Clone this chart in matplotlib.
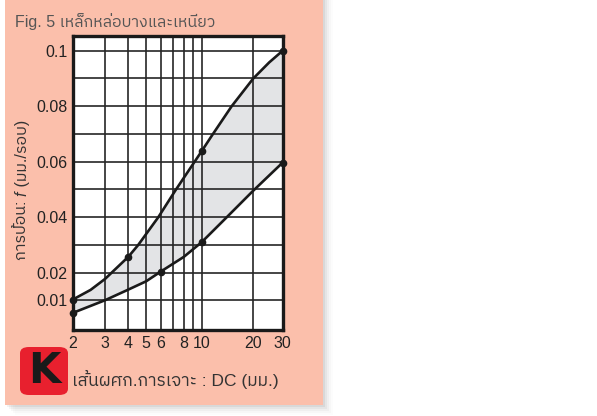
import matplotlib
matplotlib.use('Agg')
import matplotlib.pyplot as plt
from matplotlib import font_manager, ft2font
from matplotlib.patches import Rectangle, FancyBboxPatch
import numpy as np

# values (curve traced at grid crossings)
upper_dc = [2, 2.5, 3, 4, 4.53, 5.82, 7.26, 10, 11.45, 15.02, 20.13, 25, 30]
upper_f = [0.0103, 0.0138, 0.0178, 0.0257, 0.03, 0.04, 0.05, 0.0638, 0.0693, 0.08, 0.09, 0.0958, 0.1]
lower_dc = [2, 3, 4, 5, 6, 8, 10, 14, 20, 30]
lower_f = [0.0055, 0.0101, 0.0139, 0.0169, 0.0204, 0.0257, 0.031, 0.0399, 0.0494, 0.0597]

upper_dots_dc = [2, 4, 10, 30]
upper_dots_f = [0.0103, 0.0257, 0.0638, 0.1]
lower_dots_dc = [2, 6, 10, 30]
lower_dots_f = [0.0055, 0.0204, 0.031, 0.0597]

x_grid = [2, 3, 4, 5, 6, 7, 8, 9, 10, 20, 30]
x_ticks = [2, 3, 4, 5, 6, 8, 10, 20, 30]
y_grid = [0.01, 0.02, 0.03, 0.04, 0.05, 0.06, 0.07, 0.08, 0.09, 0.1]
y_ticks = [0.01, 0.02, 0.04, 0.06, 0.08, 0.1]
y_ticklabels = ['0.01', '0.02', '0.04', '0.06', '0.08', '0.1']

title = 'Fig. 5 เหล็กหล่อบางและเหนียว'
xlabel = 'เส้นผศก.การเจาะ : DC (มม.)'
ylabel_parts = ['การป้อน: ', 'f', ' (มม./รอบ)']


def thai_family():
    # pick an installed font that actually has Thai glyphs
    found = []
    for f in font_manager.fontManager.ttflist:
        try:
            if 0x0E01 in ft2font.FT2Font(f.fname).get_charmap():
                found.append(f.name)
        except Exception:
            pass
    for name in found:
        if 'Thai' in name:
            return name
    return found[0] if found else 'DejaVu Sans'


THAI = thai_family()
FAM = ['Liberation Sans', THAI, 'DejaVu Sans']
plt.rcParams['font.family'] = FAM

# the printed log axis is a bit squeezed above 10, so two log pieces
DEC_LO = 184.55   # per decade, 2..10
DEC_HI = 169.8    # per decade, 10..30
L2 = np.log10(2)


def fwd(x):
    lx = np.log10(np.clip(x, 1e-6, None))
    return np.where(lx <= 1, (lx - L2) * DEC_LO, (1 - L2) * DEC_LO + (lx - 1) * DEC_HI)


def inv(u):
    u10 = (1 - L2) * DEC_LO
    return np.where(u <= u10, 10 ** (u / DEC_LO + L2), 10 ** ((u - u10) / DEC_HI + 1))


W, H = 597, 416
fig = plt.figure(figsize=(W / 100, H / 100), dpi=100)
fig.patch.set_facecolor('white')


def px(x0, y0, x1, y1):
    # pixel box (top-left origin) -> figure fraction
    return (x0 / W, 1 - y1 / H, (x1 - x0) / W, (y1 - y0) / H)


# soft shadow round the panel
for i, a in enumerate([0.05, 0.04, 0.03, 0.02, 0.012]):
    d = 2 + i * 2
    l, b, w, h = px(5 + d, 0, 323 + d, 405 + d)
    fig.patches.append(Rectangle((l, b), w, h, transform=fig.transFigure, zorder=-3,
                                 facecolor='black', alpha=a, edgecolor='none'))
l, b, w, h = px(5, 0, 323, 405)
fig.patches.append(Rectangle((l, b), w, h, transform=fig.transFigure, zorder=-2,
                             facecolor='#fbbfab', edgecolor='none'))

ax = fig.add_axes(px(72.7, 36, 282.7, 330))
ax.set_facecolor('white')
ax.set_xscale('function', functions=(fwd, inv))
ax.set_xlim(2, 30)
ax.set_ylim(-0.00065, 0.1053)

ax.fill(np.concatenate([upper_dc, lower_dc[::-1]]),
        np.concatenate([upper_f, lower_f[::-1]]),
        color='#e3e4e6', zorder=1, lw=0)
for xv in x_grid:
    ax.axvline(xv, color='#262626', lw=1.2, zorder=2)
for yv in y_grid:
    ax.axhline(yv, color='#262626', lw=1.2, zorder=2)

ax.plot(upper_dc, upper_f, color='#1a1a1a', lw=1.9, zorder=4, solid_joinstyle='round')
ax.plot(lower_dc, lower_f, color='#1a1a1a', lw=1.9, zorder=4, solid_joinstyle='round')
ax.plot(upper_dots_dc, upper_dots_f, 'o', color='#1a1a1a', ms=4.5, zorder=5, clip_on=False)
ax.plot(lower_dots_dc, lower_dots_f, 'o', color='#1a1a1a', ms=4.5, zorder=5, clip_on=False)

ax.xaxis.set_major_locator(plt.FixedLocator(x_ticks))
ax.xaxis.set_minor_locator(plt.NullLocator())
ax.xaxis.set_major_formatter(plt.FixedFormatter([str(v) for v in x_ticks]))
ax.set_yticks(y_ticks)
ax.set_yticklabels(y_ticklabels)
ax.tick_params(length=0, labelsize=11.5, colors='#222222', pad=4)
for s in ax.spines.values():
    s.set_linewidth(2.4)
    s.set_color('#1a1a1a')
    s.set_zorder(6)

fig.text(15 / W, 1 - 22 / H, title, fontsize=11.5, color='#555555', va='center', ha='left')
fig.text(72 / W, 1 - 379 / H, xlabel, fontsize=12.5, color='#333333', va='center', ha='left')

# y label: three rotated pieces so that f can be italic
renderer = fig.canvas.get_renderer()
pieces = []
for i, part in enumerate(ylabel_parts):
    t = fig.text(0, 0, part, fontsize=11.5, color='#333333', rotation=90,
                 rotation_mode='anchor', ha='left', va='center',
                 style='italic' if i == 1 else 'normal')
    pieces.append(t)
lens = [t.get_window_extent(renderer).height for t in pieces]
ypos = (H - 190) - sum(lens) / 2
for t, ln in zip(pieces, lens):
    t.set_position((22 / W, ypos / H))
    ypos += ln

# K badge
l, b, w, h = px(20, 347, 68, 395)
fig.patches.append(FancyBboxPatch((l, b), w, h, transform=fig.transFigure,
                                  boxstyle='round,pad=0,rounding_size=0.015',
                                  facecolor='#e8202e', edgecolor='none'))
fig.text(44 / W, 1 - 371 / H, 'K', fontsize=30, fontweight='bold', color='#1a1a1a',
         va='center', ha='center', family='DejaVu Sans')

fig.savefig('out.png', dpi=100)
